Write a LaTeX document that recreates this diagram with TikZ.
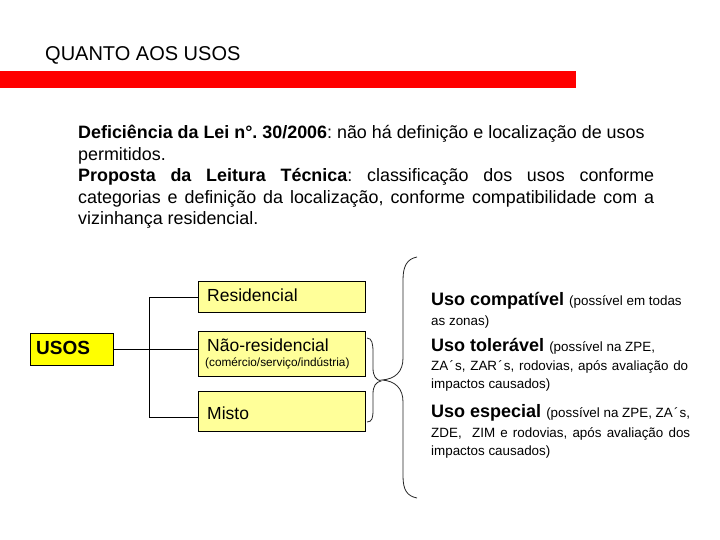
\documentclass[tikz,border=0pt]{standalone}
\usepackage{fontspec}
\setmainfont{Liberation Sans}
\definecolor{paleyellow}{HTML}{FFFF99}
\definecolor{brightyellow}{HTML}{FFFF00}
\definecolor{barred}{HTML}{FF0000}
\newcommand{\acc}{\kern1.2pt´\kern1.2pt}
\begin{document}
\frenchspacing
\begin{tikzpicture}[x=1pt,y=-1pt,
  box/.style={draw=black,line width=1.3pt,fill=paleyellow,minimum width=167pt,inner sep=0pt,anchor=north west},
  txt/.style={anchor=base west,inner sep=0pt},
  para/.style={txt,font=\fontsize{17.9}{20}\selectfont},
  boxtxt/.style={txt,font=\fontsize{17.5}{20}\selectfont},
  small/.style={txt,font=\fontsize{13.4}{15}\selectfont},
  conn/.style={draw=black,line width=0.8pt},
  bracestyle/.style={draw=black!85,line width=0.8pt}]
\useasboundingbox (0,0) rectangle (720,540);
\fill[white] (0,0) rectangle (720,540);
% title and bar
\node[txt,font=\fontsize{20}{22}\selectfont] (title) at (45,61) {QUANTO AOS USOS};
\fill[barred] (0,71.5) rectangle (576,88.5);
% paragraph
\node[para] (p1) at (78,139) {\textbf{Deficiência da Lei n°. 30/2006}: não há definição e localização de usos};
\node[para] (p2) at (78,160.5) {permitidos.};
\node[para] (p3) at (78,182) {\makebox[576pt][s]{\textbf{Proposta da Leitura Técnica}: classificação dos usos conforme}};
\node[para] (p4) at (78,203.5) {\makebox[576pt][s]{categorias e definição da localização, conforme compatibilidade com a}};
\node[para] (p5) at (78,225) {vizinhança residencial.};
% boxes
\node[box,minimum height=32pt,minimum width=83pt,fill=brightyellow] (usos) at (30,333) {};
\node[txt,font=\bfseries\fontsize{19}{22}\selectfont] (usostxt) at (36,354) {USOS};
\node[box,minimum height=31pt] (res) at (198,281) {};
\node[boxtxt] (restxt) at (207,301.5) {Residencial};
\node[box,minimum height=45pt] (nao) at (198,331) {};
\node[boxtxt] (naotxt) at (207,351.5) {Não-residencial};
\node[txt,font=\fontsize{11.8}{13}\selectfont] (naosub) at (205,366) {(comércio/serviço/indústria)};
\node[box,minimum height=40pt] (misto) at (198,391) {};
\node[boxtxt] (mistotxt) at (207,419) {Misto};
% connectors
\draw[conn] (usos.east) -- (usos.east -| nao.west);
\draw[conn] (res.west) -- ++(-49,0) |- ([yshift=-6pt]misto.west);
% braces
\draw[bracestyle] (367,338) .. controls (372,338) and (373,344) .. (373,352) -- (373,368)
  .. controls (373,376) and (376,380) .. (381,381)
  .. controls (376,382) and (373,386) .. (373,394) -- (373,410)
  .. controls (373,418) and (372,422) .. (367,422);
\draw[bracestyle] (417,257) .. controls (407,259) and (403,266) .. (403,280) -- (403,358)
  .. controls (403,372) and (395,379) .. (382,380)
  .. controls (395,381) and (403,388) .. (403,402) -- (403,476)
  .. controls (403,490) and (407,496) .. (417,498);
% right texts
\node[txt] (c1) at (431,305) {\fontsize{18}{20}\selectfont\textbf{Uso compatível} \fontsize{13.4}{15}\selectfont(possível em todas};
\node[small] (c2) at (431,325) {as zonas)};
\node[txt] (t1) at (431,351) {\fontsize{18}{20}\selectfont\textbf{Uso tolerável} \fontsize{13.4}{15}\selectfont(possível na ZPE,};
\node[small] (t2) at (431,370) {\makebox[257pt][s]{ZA\acc s, ZAR\acc s, rodovias, após avaliação do}};
\node[small] (t3) at (431,388) {impactos causados)};
\node[txt] (e1) at (431,417) {\fontsize{18}{20}\selectfont\textbf{Uso especial} \fontsize{13.4}{15}\selectfont(possível na ZPE, ZA\acc s,};
\node[small] (e2) at (431,437) {\makebox[259pt][s]{ZDE,\ \ ZIM e rodovias, após avaliação dos}};
\node[small] (e3) at (431,455) {impactos causados)};
\end{tikzpicture}
\end{document}
